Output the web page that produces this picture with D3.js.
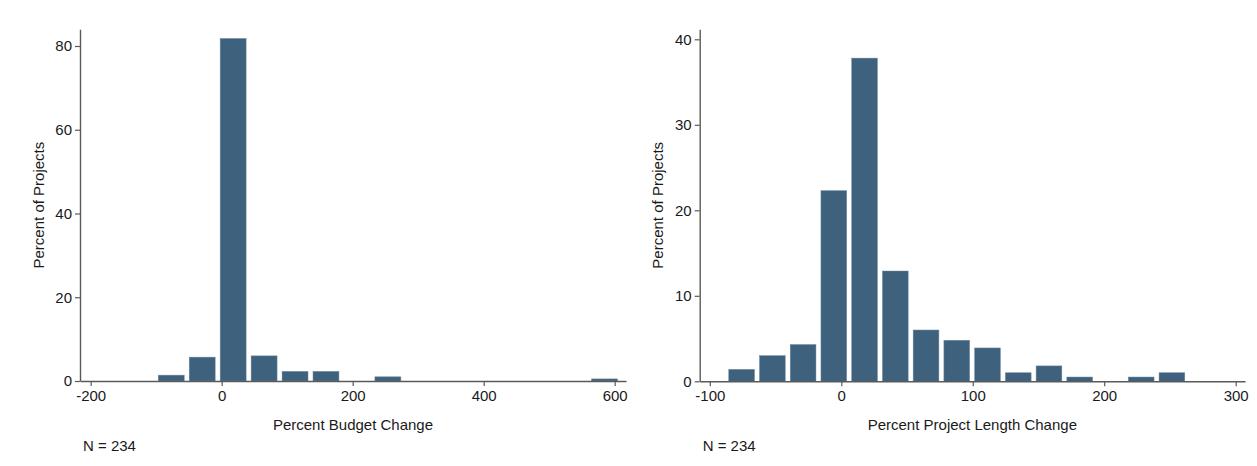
<!DOCTYPE html>
<html>
<head>
<meta charset="utf-8">
<script src="https://cdn.jsdelivr.net/npm/d3@7"></script>
<style>
  html, body { margin: 0; padding: 0; background: #fff; }
  svg { display: block; }
  text { font-family: "Liberation Sans", Arial, Helvetica, sans-serif; fill: #1a1a1a; }
</style>
</head>
<body>
<svg id="chart" width="1257" height="466"></svg>
<script>
// ---- Data ----
// Left histogram: Percent Budget Change, 15 bins
const budgetBinStart = -96.8;
const budgetBinWidth = 47.25;
const budgetPercents = [1.4, 5.7, 81.8, 6.0, 2.3, 2.3, 0, 1.0, 0, 0, 0, 0, 0, 0, 0.5];
const budgetXTicks = [-200, 0, 200, 400, 600];
const budgetYTicks = [0, 20, 40, 60, 80];

// Right histogram: Percent Project Length Change, 15 bins
const lengthBinStart = -85.6;
const lengthBinWidth = 23.38;
const lengthPercents = [1.4, 3.0, 4.3, 22.3, 37.8, 12.9, 6.0, 4.8, 3.9, 1.0, 1.8, 0.5, 0, 0.5, 1.0];
const lengthXTicks = [-100, 0, 100, 200, 300];
const lengthYTicks = [0, 10, 20, 30, 40];

const xTitles = ["Percent Budget Change", "Percent Project Length Change"];
const yTitle = "Percent of Projects";
const noteText = "N = 234";

// ---- Drawing ----
const svg = d3.select("#chart");
const barColor = "#3e627d";
const axisColor = "#5a5a5a";
const barGapPx = 5;

function histogram(cfg) {
  const g = svg.append("g");
  const x = d3.scaleLinear().domain(cfg.xDomain).range(cfg.xRange);
  const y = d3.scaleLinear().domain(cfg.yDomain).range(cfg.yRange);

  const bins = cfg.percents.map((p, i) => ({
    x0: cfg.binStart + i * cfg.binWidth,
    x1: cfg.binStart + (i + 1) * cfg.binWidth,
    p: p
  })).filter(d => d.p > 0);

  g.selectAll("rect.bar").data(bins).enter().append("rect")
    .attr("class", "bar")
    .attr("x", d => x(d.x0))
    .attr("width", d => x(d.x1) - x(d.x0) - barGapPx)
    .attr("y", d => y(d.p))
    .attr("height", d => y(0) - y(d.p))
    .attr("fill", barColor)
    .attr("stroke", "#6f8aa0")
    .attr("stroke-width", 0.5);

  const fmt = d => String(d);
  const xAxis = g.append("g")
    .attr("transform", `translate(0,${y(0)})`)
    .call(d3.axisBottom(x).tickValues(cfg.xTicks).tickFormat(fmt).tickSize(5).tickSizeOuter(0).tickPadding(4));
  const yAxis = g.append("g")
    .attr("transform", `translate(${x(cfg.xDomain[0])},0)`)
    .call(d3.axisLeft(y).tickValues(cfg.yTicks).tickFormat(fmt).tickSize(5).tickSizeOuter(0).tickPadding(3));

  [xAxis, yAxis].forEach(a => {
    a.select(".domain").attr("stroke", axisColor).attr("stroke-width", 1.4);
    a.selectAll(".tick line").attr("stroke", axisColor).attr("stroke-width", 1.2);
    a.selectAll(".tick text").style("font-family", '"Liberation Sans", Arial, sans-serif')
      .style("font-size", "15px").attr("fill", "#1a1a1a");
  });

  const cx = (cfg.xRange[0] + cfg.xRange[1]) / 2;
  g.append("text")
    .attr("x", cx).attr("y", 429.5)
    .attr("text-anchor", "middle")
    .style("font-size", "15px")
    .text(cfg.xTitle);

  const cy = (cfg.yRange[0] + cfg.yRange[1]) / 2;
  g.append("text")
    .attr("transform", `translate(${cfg.xRange[0] - 36.5},${cy}) rotate(-90)`)
    .attr("text-anchor", "middle")
    .style("font-size", "15px")
    .text(yTitle);

  g.append("text")
    .attr("x", cfg.xRange[0] + 3).attr("y", 451)
    .style("font-size", "15px")
    .text(noteText);
}

histogram({
  binStart: budgetBinStart, binWidth: budgetBinWidth, percents: budgetPercents,
  xTicks: budgetXTicks, yTicks: budgetYTicks,
  xDomain: [-216.3, 617.3], xRange: [80, 626],
  yDomain: [0, 84], yRange: [381, 29.25],
  xTitle: xTitles[0]
});

histogram({
  binStart: lengthBinStart, binWidth: lengthBinWidth, percents: lengthPercents,
  xTicks: lengthXTicks, yTicks: lengthYTicks,
  xDomain: [-107.7, 307.1], xRange: [699.7, 1245],
  yDomain: [0, 41.17], yRange: [381.3, 29.3],
  xTitle: xTitles[1]
});
</script>
</body>
</html>
